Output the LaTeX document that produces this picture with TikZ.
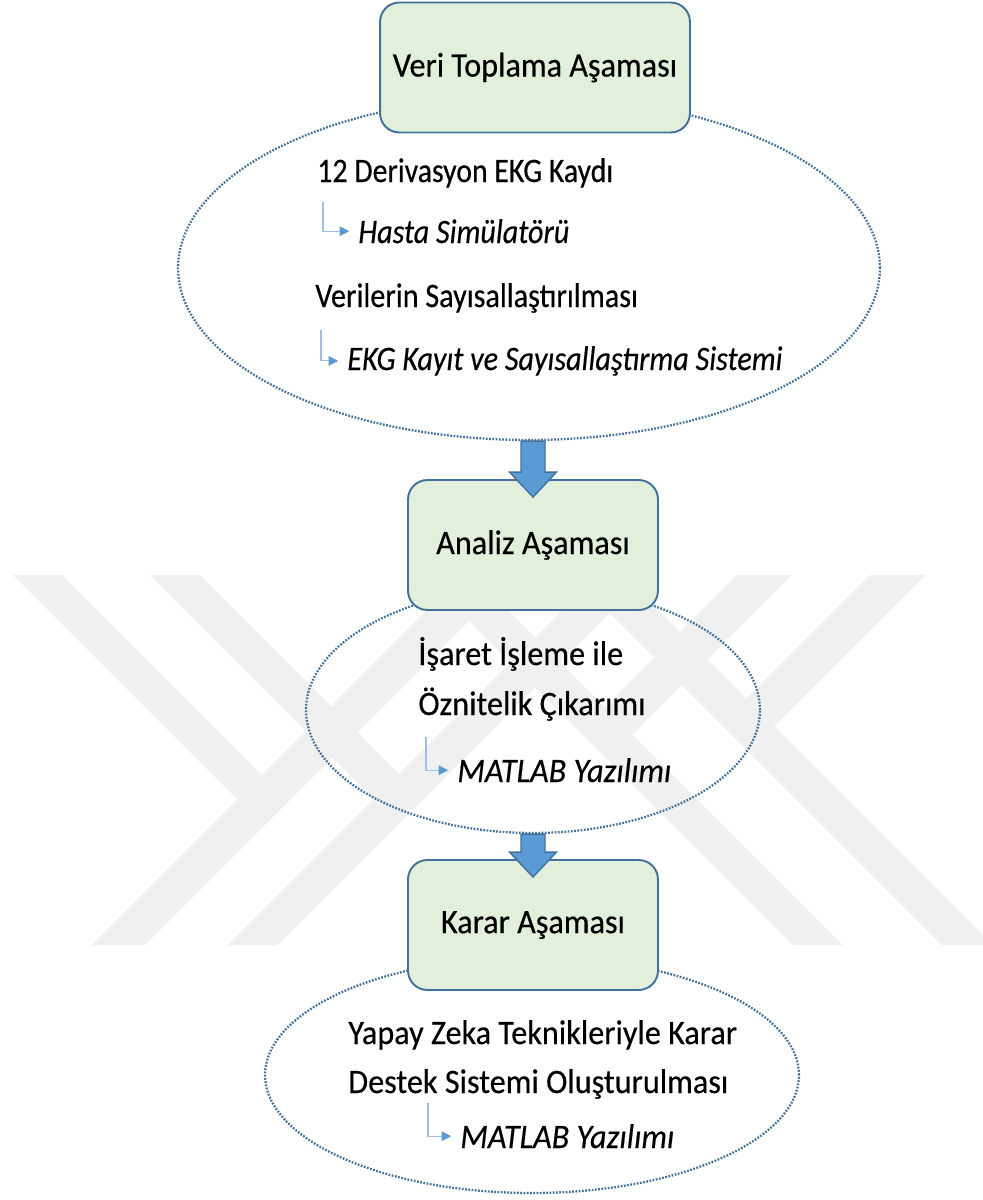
\documentclass[tikz,border=0pt]{standalone}
\usepackage{fontspec}
\setmainfont{Carlito}[FakeBold=0.4]
\usetikzlibrary{shapes.geometric,calc,arrows.meta}

\definecolor{boxfill}{HTML}{E2EFDA}
\definecolor{boxline}{HTML}{41719C}
\definecolor{arrowblue}{HTML}{5B9BD5}
\definecolor{sublink}{HTML}{9DBFE6}
\definecolor{wmark}{HTML}{F0F0F0}

\newcommand{\narrow}[2][0.94]{\scalebox{#1}[1]{#2}}

\tikzset{
  stage/.style={draw=boxline,fill=boxfill,line width=1.1pt,rounded corners=11pt,
    minimum width=5cm,minimum height=2.6cm,inner sep=0pt,
    font=\fontsize{19.5}{24}\selectfont},
  cloud/.style={ellipse,draw=boxline,line width=1.3pt,dash pattern=on 1pt off 0.85pt,inner sep=0pt},
  item/.style={anchor=base west,inner sep=0pt,font=\fontsize{19.5}{24}\selectfont},
  tool/.style={item,font=\fontsize{19.5}{24}\selectfont\itshape},
  link/.style={draw=sublink,line width=0.6pt,shorten >=5pt,
    -{Triangle[length=5.5pt,width=5.5pt,color=arrowblue]}},
  flow/.style={draw=boxline,fill=arrowblue,line width=0.8pt,line join=miter}
}

\begin{document}
\begin{tikzpicture}[x=0.02cm,y=-0.02cm]
\useasboundingbox (0,0) rectangle (983,1200);

% watermark
\fill[wmark] (13,575) -- (62,575) -- (288.5,801.5) -- (264,826) -- cycle;
\fill[wmark] (150,575) -- (200,575) -- (423.5,798.5) -- (398.5,823.5) -- cycle;
\fill[wmark] (92,945) -- (145,945) -- (515,575) -- (462,575) -- cycle;
\fill[wmark] (228,945) -- (277,945) -- (647,575) -- (598,575) -- cycle;
\fill[wmark] (793,945) -- (843,945) -- (473,575) -- (423,575) -- cycle;
\fill[wmark] (942,945) -- (993,945) -- (623,575) -- (572,575) -- cycle;
\fill[wmark] (737,575) -- (792,575) -- (607.5,759.5) -- (580,732) -- cycle;
\fill[wmark] (870,575) -- (925,575) -- (748.5,751.5) -- (721,724) -- cycle;

% ellipses
\node[cloud,minimum width=14.04cm,minimum height=6.88cm] (e1) at (529,268) {};
\node[cloud,minimum width=9.08cm,minimum height=4.92cm] (e2) at (533,710) {};
\node[cloud,minimum width=10.68cm,minimum height=4.72cm] (e3) at (532,1075) {};

% stages
\node[stage,minimum width=6.2cm] (b1) at (535,67.5) {\narrow{Veri Toplama Aşaması}};
\node[stage] (b2) at (533,545) {\narrow{Analiz Aşaması}};
\node[stage] (b3) at (533,925) {\narrow{Karar Aşaması}};

% first ellipse
\node[item] (t11) at (317,182) {\narrow[0.87]{12 Derivasyon EKG Kaydı}};
\node[tool] (t12) at (358,243) {\narrow[0.88]{Hasta Simülatörü}};
\node[item] (t13) at (315,307) {\narrow[0.88]{Verilerin Sayısallaştırılması}};
\node[tool] (t14) at (347,370) {\narrow[0.88]{EKG Kayıt ve Sayısallaştırma Sistemi}};
\coordinate (s1) at (323,202);
\coordinate (s2) at (321,330);
\draw[link] (s1) |- (t12);
\draw[link] (s2) |- (t14);

% second ellipse
\node[item] (t21) at (418,665) {\narrow{İşaret İşleme ile}};
\node[item] (t22) at (418,715) {\narrow{Öznitelik Çıkarımı}};
\node[tool] (t23) at (457,782) {\narrow{MATLAB Yazılımı}};
\coordinate (s3) at (426,737);
\draw[link] (s3) |- (t23);

% third ellipse
\node[item] (t31) at (348,1044) {\narrow{Yapay Zeka Teknikleriyle Karar}};
\node[item] (t32) at (348,1093) {\narrow{Destek Sistemi Oluşturulması}};
\node[tool] (t33) at (460,1148) {\narrow{MATLAB Yazılımı}};
\coordinate (s4) at (428,1103);
\draw[link] (s4) |- (t33);

% block arrows
\foreach \from/\to in {e1/b2,e2/b3}{
  \draw[flow] ($(\from.south -| \to.north)+(-12,0)$) -- ($(\to.north)+(-12,-7)$)
    -- ($(\to.north)+(-23.5,-7)$) -- ($(\to.north)+(0,18)$)
    -- ($(\to.north)+(23.5,-7)$) -- ($(\to.north)+(12,-7)$)
    -- ($(\from.south -| \to.north)+(12,0)$) -- cycle;
}
\end{tikzpicture}
\end{document}
